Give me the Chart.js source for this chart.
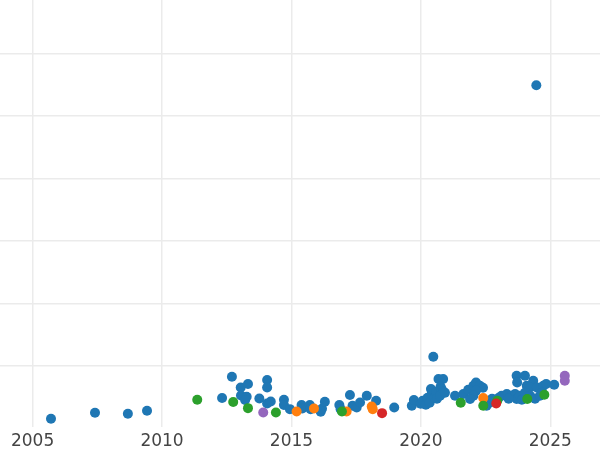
<!DOCTYPE html>
<html>
<head>
<meta charset="utf-8">
<script src="https://cdn.jsdelivr.net/npm/chart.js@4.4.1/dist/chart.umd.min.js"></script>
<style>
    html, body { margin: 0; padding: 0; background: #ffffff; }
    #wrap { width: 600px; height: 450px; }
</style>
</head>
<body>
<div id="wrap"><canvas id="scatterChart" width="600" height="450"></canvas></div>
<script>
// x = year (decimal), y = value
const xTicks = [2005, 2010, 2015, 2020, 2025];

const blueYears = [2005.71, 2007.41, 2008.68, 2009.42, 2012.32, 2012.70, 2013.04, 2013.32, 2013.05, 2013.27,
    2013.21, 2013.76, 2014.06, 2014.06, 2014.06, 2014.20, 2014.71, 2014.71, 2014.94, 2015.39,
    2015.42, 2015.71, 2015.74, 2016.13, 2016.18, 2016.29, 2016.85, 2016.90, 2017.26, 2017.36,
    2017.52, 2017.65, 2017.91, 2018.27, 2018.97, 2019.65, 2019.73, 2019.99, 2020.07, 2020.19,
    2020.26, 2020.34, 2020.42, 2020.48, 2020.39, 2020.53, 2020.60, 2020.68, 2020.86, 2020.76,
    2020.80, 2020.87, 2020.62, 2020.74, 2020.93, 2021.32, 2021.64, 2021.83, 2022.03, 2022.13,
    2022.28, 2022.40, 2022.13, 2022.03, 2021.90, 2022.54, 2022.67, 2022.75, 2023.12, 2023.32,
    2023.51, 2023.64, 2023.70, 2023.70, 2023.72, 2024.02, 2024.34, 2024.09, 2024.22, 2024.48,
    2024.73, 2024.84, 2025.15, 2023.82, 2023.90, 2024.02, 2024.22, 2024.41, 2024.60, 2024.68,
    2023.39, 2023.01, 2024.46];
const blueValues = [15.1, 24.7, 23.1, 27.9, 48.3, 82.4, 65.3, 70.7, 52.5, 50.4,
    45.1, 47.6, 77.2, 65.3, 39.6, 42.8, 45.6, 37.1, 30.6, 37.1,
    31.6, 37.1, 30.6, 26.3, 31.1, 42.3, 37.1, 30.6, 53.1, 35.9,
    33.2, 41.2, 52.0, 43.9, 33.2, 35.9, 45.1, 39.1, 44.0, 37.5,
    48.8, 40.7, 55.2, 114.5, 62.7, 48.8, 58.4, 78.8, 78.8, 66.4,
    62.7, 58.4, 47.2, 52.0, 56.8, 52.0, 54.7, 61.6, 68.0, 73.3,
    68.0, 64.8, 60.0, 52.0, 46.7, 35.9, 41.2, 47.2, 52.0, 54.7,
    52.0, 54.7, 46.7, 84.1, 73.3, 84.1, 76.0, 68.0, 65.3, 65.3,
    68.0, 70.7, 69.6, 52.0, 45.6, 56.8, 52.0, 47.2, 52.0, 56.8,
    47.2, 48.8, 549.2];

const orangeYears = [2015.20, 2015.87, 2017.13, 2018.10, 2018.14, 2022.41];
const orangeValues = [26.8, 31.6, 26.8, 34.8, 30.6, 48.3];

const greenYears = [2011.36, 2012.75, 2013.32, 2014.40, 2016.95, 2021.54, 2022.41, 2022.95, 2024.11, 2024.77];
const greenValues = [45.6, 41.9, 32.2, 25.2, 26.8, 40.7, 35.9, 43.9, 46.7, 53.6];

const redYears = [2018.50, 2022.91];
const redValues = [24.2, 39.6];

const purpleYears = [2013.91, 2025.56, 2025.56];
const purpleValues = [25.2, 84.1, 76.0];

function toPoints(xs, ys) {
    return xs.map((x, i) => ({ x: x, y: ys[i] }));
}

function series(label, xs, ys, color, order) {
    return {
        label: label,
        data: toPoints(xs, ys),
        backgroundColor: color,
        borderWidth: 0,
        pointRadius: 5,
        order: order,
    };
}

const ctx = document.getElementById("scatterChart").getContext("2d");

new Chart(ctx, {
    type: "scatter",
    data: {
        datasets: [
            series("Series 1", blueYears, blueValues, "#1f77b4", 5),
            series("Series 2", orangeYears, orangeValues, "#ff7f0e", 4),
            series("Series 3", greenYears, greenValues, "#2ca02c", 3),
            series("Series 4", redYears, redValues, "#d62728", 2),
            series("Series 5", purpleYears, purpleValues, "#9467bd", 1),
        ],
    },
    options: {
        responsive: false,
        animation: false,
        layout: { padding: 0, autoPadding: false },
        plugins: {
            legend: { display: false },
            tooltip: { enabled: false },
        },
        scales: {
            x: {
                type: "linear",
                min: 2003.74,
                max: 2026.92,
                border: { display: false },
                grid: { color: "#ebebeb", lineWidth: 1.5, drawTicks: false },
                afterBuildTicks: (scale) => {
                    scale.ticks = xTicks.map((v) => ({ value: v }));
                },
                afterFit: (scale) => {
                    scale.height = 23;
                },
                ticks: {
                    padding: 4,
                    color: "#444444",
                    font: { family: "DejaVu Sans", size: 17 },
                    callback: (v) => String(v),
                },
            },
            y: {
                min: 2,
                max: 685.6,
                border: { display: false },
                grid: { color: "#ebebeb", lineWidth: 1.5, drawTicks: false },
                ticks: { display: false, stepSize: 100, includeBounds: false },
                afterFit: (scale) => {
                    scale.width = 0;
                },
            },
        },
    },
});
</script>
</body>
</html>
